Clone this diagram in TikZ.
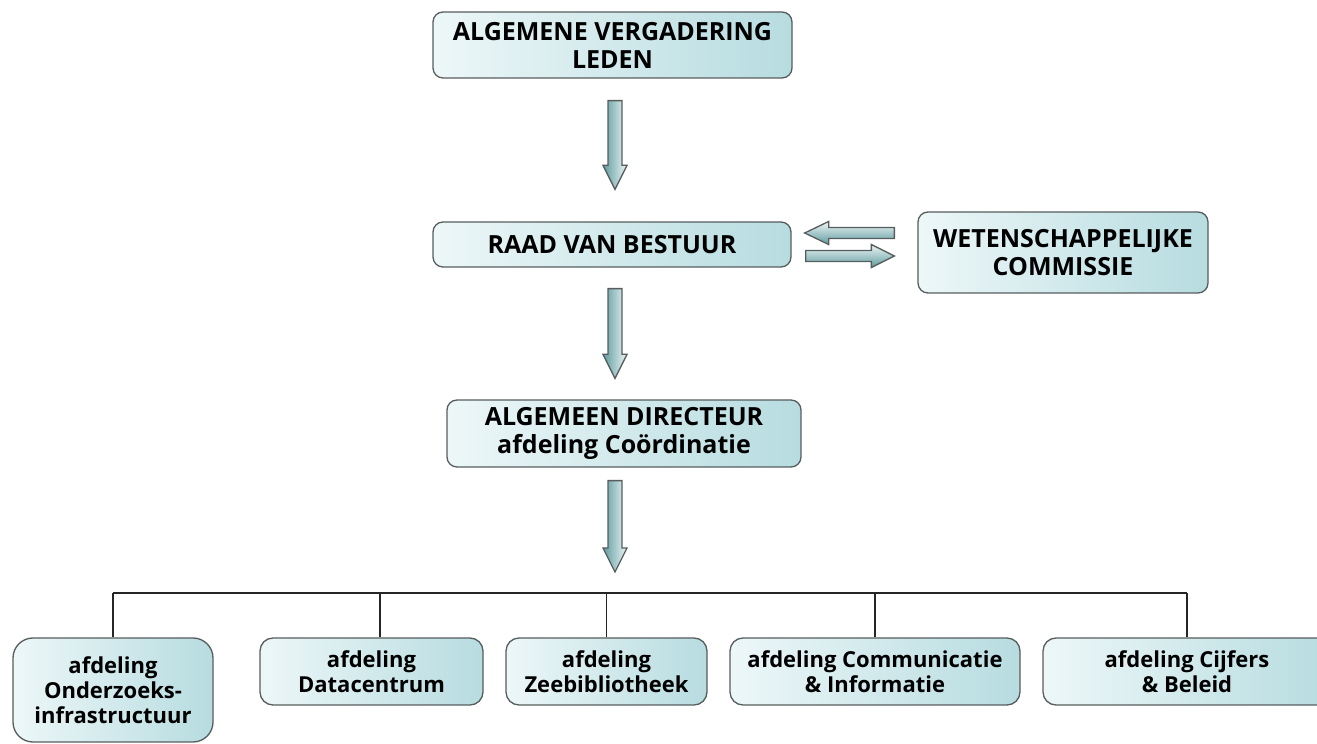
\documentclass[tikz,border=0pt]{standalone}
\usepackage{fontspec}
\setmainfont{Open Sans}
\definecolor{orgline}{HTML}{575D5E}
\definecolor{orglight}{HTML}{EDF7F8}
\definecolor{orgteal}{HTML}{B7DCE0}
\definecolor{blkdark}{HTML}{5E9C9F}
\definecolor{blklight}{HTML}{EEF5F5}
\usetikzlibrary{calc}
% downward block arrow: x of #1, from y of #1 to tip at y of #2
\newcommand{\vblk}[2]{\path[blk] let \p1=(#1), \p2=(#2) in
  ({\x1-7},\y1) -- ({\x1+7},\y1) -- ({\x1+7},{\y2+24}) -- ({\x1+12},{\y2+24}) -- (\x1,\y2)
  -- ({\x1-12},{\y2+24}) -- ({\x1-7},{\y2+24}) -- cycle;}
% sideways block arrow: tail #1, tip #2, signed head length #3
\newcommand{\hblk}[3]{\path[blk,top color=blklight,bottom color=blkdark] let \p1=(#1), \p2=(#2) in
  (\x1,{\y1-5.5}) -- ({\x2-1*(#3)},{\y1-5.5}) -- ({\x2-1*(#3)},{\y1-11.5}) -- (\x2,\y1)
  -- ({\x2-1*(#3)},{\y1+11.5}) -- ({\x2-1*(#3)},{\y1+5.5}) -- (\x1,{\y1+5.5}) -- cycle;}

\begin{document}
\begin{tikzpicture}[x=1pt,y=1pt,
  unit/.style={draw=orgline,line width=1.3pt,rounded corners=10pt,left color=orglight,right color=orgteal,
    inner sep=0pt,align=center,font=\bfseries\fontsize{25}{28}\selectfont},
  dept/.style={unit,rounded corners=13pt,minimum height=67pt,font=\bfseries\fontsize{22}{25}\selectfont},
  blk/.style={draw=orgline,line width=1.3pt,left color=blkdark,right color=blklight},
  tree/.style={draw=black!85,line width=1.6pt}]
\useasboundingbox (0,0) rectangle (1317,744);
\clip (0,0) rectangle (1317,744);
% board column
\node[unit,minimum width=359pt,minimum height=66pt] (lid) at (612.5,699) {ALGEMENE VERGADERING\\LEDEN};
\node[unit,minimum width=358pt,minimum height=45pt] (raad) at (612,499.5) {RAAD VAN BESTUUR};
\node[unit,minimum width=290pt,minimum height=81pt] (wet) at (1063,491.5) {WETENSCHAPPELIJKE\\COMMISSIE};
\node[unit,minimum width=354pt,minimum height=67pt] (dir) at (624,310.5) {ALGEMEEN DIRECTEUR\\afdeling Co\"ordinatie};
% departments
\node[dept,minimum width=200pt,minimum height=104pt,rounded corners=20pt] (ond) at (113,54) {afdeling\\Onderzoeks-\\infrastructuur};
\node[dept,minimum width=223pt] (data) at (371.5,72.5) {afdeling\\Datacentrum};
\node[dept,minimum width=201pt] (zee) at (606.5,72.5) {afdeling\\Zeebibliotheek};
\node[dept,minimum width=290pt] (com) at (875,72.5) {afdeling Communicatie\\\& Informatie};
\node[dept,minimum width=288pt] (cij) at (1187,72.5) {afdeling Cijfers\\\& Beleid};
% block arrows
\coordinate (a1s) at ([xshift=2.5pt,yshift=-22pt]lid.south);
\coordinate (a1e) at ([yshift=32pt]raad.north);
\coordinate (a2s) at ([xshift=3pt,yshift=-21pt]raad.south);
\coordinate (a2e) at ([yshift=21pt]dir.north);
\coordinate (a3s) at ([xshift=-9pt,yshift=-13pt]dir.south);
\coordinate (bar) at (615,151);
\coordinate (a3e) at ([yshift=21pt]bar);
\vblk{a1s}{a1e}
\vblk{a2s}{a2e}
\vblk{a3s}{a3e}
\hblk{[xshift=-23pt,yshift=19.5pt]wet.west}{[xshift=13pt]raad.east}{-24}
\hblk{[xshift=14pt,yshift=-11.5pt]raad.east}{[xshift=-23pt]wet.west}{23}
% tree to departments
\coordinate (dtop) at ([xshift=8.5pt]data.north);
\draw[tree] (ond.north |- bar) -- (cij.north |- bar);
\foreach \d in {ond,dtop,zee,com,cij} \draw[tree] (\d.north) -- (\d.north |- bar);
\end{tikzpicture}
\end{document}
